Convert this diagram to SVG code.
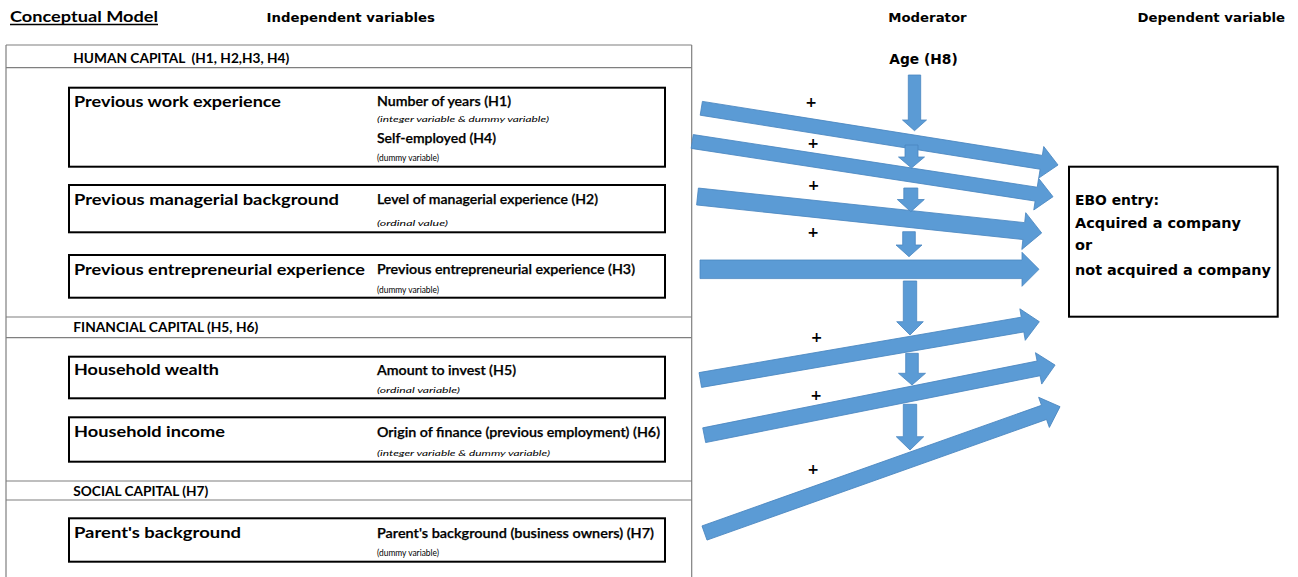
<svg xmlns="http://www.w3.org/2000/svg" width="1298" height="577" viewBox="0 0 1298 577">
<style>
.hdr{font-family:"DejaVu Sans",Verdana,sans-serif;font-weight:bold;font-size:12px;fill:#000}
.sec{font-family:Lato,"Liberation Sans",sans-serif;font-weight:bold;font-size:12.5px;fill:#000}
.ttl{font-family:Lato,"Liberation Sans",sans-serif;font-weight:bold;font-size:16px;fill:#000}
.var{font-family:"Lato Semibold",Lato,"Liberation Sans",sans-serif;font-weight:600;font-size:13px;fill:#000;stroke:#000;stroke-width:0.25}
.sml{font-family:Lato,"Liberation Sans",sans-serif;font-size:8.5px;fill:#000}
.it{font-style:italic}
.box{fill:#fff;stroke:#000;stroke-width:2}
.frame{fill:none;stroke:#7f7f7f;stroke-width:1.2}
.arr{fill:#5B9BD5;stroke:#4A86C0;stroke-width:0.8}
.plus{font-family:"DejaVu Sans",sans-serif;font-weight:bold;font-size:14px;fill:#000;text-anchor:middle}
.ebo{font-family:"DejaVu Sans",Verdana,sans-serif;font-weight:bold;font-size:14.5px;fill:#000}
</style>
<rect width="1298" height="577" fill="#fff"/>

<g id="headers">
<text x="10" y="21.5" font-family="Lato,'Liberation Sans',sans-serif" font-weight="bold" font-size="16" textLength="148" lengthAdjust="spacingAndGlyphs">Conceptual Model</text>
<line x1="10" y1="24.5" x2="158" y2="24.5" stroke="#000" stroke-width="1.3"/>
<text class="hdr" x="266.5" y="21.5" textLength="168.5" lengthAdjust="spacingAndGlyphs">Independent variables</text>
<text class="hdr" x="888.3" y="21.5" textLength="78.3" lengthAdjust="spacingAndGlyphs">Moderator</text>
<text class="hdr" x="1137.5" y="21.5" textLength="147.5" lengthAdjust="spacingAndGlyphs">Dependent variable</text>
</g>

<g id="frame">
<line class="frame" x1="6" y1="45" x2="6" y2="577"/>
<line class="frame" x1="691.7" y1="45" x2="691.7" y2="577"/>
<line class="frame" x1="6" y1="45" x2="691.7" y2="45"/>
<line class="frame" x1="6" y1="67.7" x2="691.7" y2="67.7"/>
<line class="frame" x1="6" y1="317" x2="691.7" y2="317"/>
<line class="frame" x1="6" y1="337.7" x2="691.7" y2="337.7"/>
<line class="frame" x1="6" y1="481" x2="691.7" y2="481"/>
<line class="frame" x1="6" y1="500" x2="691.7" y2="500"/>
<text class="sec" x="73.3" y="62.5" xml:space="preserve" textLength="216" lengthAdjust="spacingAndGlyphs">HUMAN CAPITAL  (H1, H2,H3, H4)</text>
<text class="sec" x="73.3" y="332" textLength="185" lengthAdjust="spacingAndGlyphs">FINANCIAL CAPITAL (H5, H6)</text>
<text class="sec" x="73.3" y="496" textLength="135" lengthAdjust="spacingAndGlyphs">SOCIAL CAPITAL (H7)</text>
</g>

<g id="node-work">
<rect class="box" x="69" y="87.7" width="596" height="79"/>
<text class="ttl" x="74" y="107" textLength="207" lengthAdjust="spacingAndGlyphs">Previous work experience</text>
<text class="var" x="377" y="106" textLength="134" lengthAdjust="spacingAndGlyphs">Number of years (H1)</text>
<text class="sml it" x="377" y="122" textLength="172" lengthAdjust="spacingAndGlyphs">(integer variable &amp; dummy variable)</text>
<text class="var" x="377" y="143" textLength="119" lengthAdjust="spacingAndGlyphs">Self-employed (H4)</text>
<text class="sml" x="377" y="161" textLength="62" lengthAdjust="spacingAndGlyphs">(dummy variable)</text>
</g>

<g id="node-managerial">
<rect class="box" x="69" y="185" width="596" height="47.3"/>
<text class="ttl" x="74" y="205" textLength="265" lengthAdjust="spacingAndGlyphs">Previous managerial background</text>
<text class="var" x="377" y="204" textLength="221" lengthAdjust="spacingAndGlyphs">Level of managerial experience (H2)</text>
<text class="sml it" x="377" y="226" textLength="71" lengthAdjust="spacingAndGlyphs">(ordinal value)</text>
</g>

<g id="node-entrepreneurial">
<rect class="box" x="69" y="255" width="596" height="42.7"/>
<text class="ttl" x="74" y="275" textLength="291" lengthAdjust="spacingAndGlyphs">Previous entrepreneurial experience</text>
<text class="var" x="377" y="274" textLength="258" lengthAdjust="spacingAndGlyphs">Previous entrepreneurial experience (H3)</text>
<text class="sml" x="377" y="293" textLength="62" lengthAdjust="spacingAndGlyphs">(dummy variable)</text>
</g>

<g id="node-wealth">
<rect class="box" x="69" y="356.7" width="596" height="41.6"/>
<text class="ttl" x="74" y="375" textLength="145" lengthAdjust="spacingAndGlyphs">Household wealth</text>
<text class="var" x="377" y="375" textLength="139" lengthAdjust="spacingAndGlyphs">Amount to invest (H5)</text>
<text class="sml it" x="377" y="393" textLength="83" lengthAdjust="spacingAndGlyphs">(ordinal variable)</text>
</g>

<g id="node-income">
<rect class="box" x="69" y="417.3" width="596" height="44.4"/>
<text class="ttl" x="74" y="437" textLength="151" lengthAdjust="spacingAndGlyphs">Household income</text>
<text class="var" x="377" y="437" textLength="283" lengthAdjust="spacingAndGlyphs">Origin of finance (previous employment) (H6)</text>
<text class="sml it" x="377" y="456" textLength="173" lengthAdjust="spacingAndGlyphs">(integer variable &amp; dummy variable)</text>
</g>

<g id="node-parents">
<rect class="box" x="69" y="518.3" width="596" height="43.4"/>
<text class="ttl" x="74" y="538" textLength="167" lengthAdjust="spacingAndGlyphs">Parent's background</text>
<text class="var" x="377" y="538" textLength="277" lengthAdjust="spacingAndGlyphs">Parent's background (business owners) (H7)</text>
<text class="sml" x="377" y="556" textLength="62" lengthAdjust="spacingAndGlyphs">(dummy variable)</text>
</g>

<g id="node-age">
<text class="ebo" x="889.3" y="64" textLength="68.4" lengthAdjust="spacingAndGlyphs">Age (H8)</text>
</g>

<g id="node-ebo">
<rect class="box" x="1069" y="166.7" width="208.7" height="150"/>
<text class="ebo" x="1075" y="205" textLength="84" lengthAdjust="spacingAndGlyphs">EBO entry:</text>
<text class="ebo" x="1075" y="227.7" textLength="166" lengthAdjust="spacingAndGlyphs">Acquired a company</text>
<text class="ebo" x="1075" y="250">or</text>
<text class="ebo" x="1075" y="275" textLength="196" lengthAdjust="spacingAndGlyphs">not acquired a company</text>
</g>

<g id="connectors">
<polygon class="arr" transform="translate(701.3,108.3) rotate(9.03)" points="0,-7 344.2,-7 344.2,-16 361.2,0 344.2,16 344.2,7 0,7"/>
<polygon class="arr" transform="translate(692.2,141.5) rotate(8.7)" points="0,-7 348,-7 348,-16 365,0 348,16 348,7 0,7"/>
<polygon class="arr" transform="translate(697.5,196.5) rotate(6.05)" points="0,-8.5 328.1,-8.5 328.1,-18.5 346.1,0 328.1,18.5 328.1,8.5 0,8.5"/>
<polygon class="arr" transform="translate(700,269.3)" points="0,-9.3 322,-9.3 322,-17 339,0 322,17 322,9.3 0,9.3"/>
<polygon class="arr" transform="translate(700.3,380) rotate(-9.76)" points="0,-7.5 327,-7.5 327,-16 344,0 327,16 327,7.5 0,7.5"/>
<polygon class="arr" transform="translate(704.2,435.2) rotate(-11.3)" points="0,-7.5 341,-7.5 341,-16 357.8,0 341,16 341,7.5 0,7.5"/>
<polygon class="arr" transform="translate(704.5,533) rotate(-19.56)" points="0,-7.5 360.3,-7.5 360.3,-16 377.3,0 360.3,16 360.3,7.5 0,7.5"/>

<polygon class="arr" points="908.3,75 920.7,75 920.7,120 926.5,120 914.5,130.7 902.5,120 908.3,120"/>
<polygon class="arr" points="905,145 918,145 918,157 924.5,157 911.5,168 898.5,157 905,157"/>
<polygon class="arr" points="903.8,188 917.8,188 917.8,199.5 924.3,199.5 910.8,211.7 897.3,199.5 903.8,199.5"/>
<polygon class="arr" points="902.7,231.7 915.3,231.7 915.3,245 922,245 909,256.7 896,245 902.7,245"/>
<polygon class="arr" points="903.3,281 916.7,281 916.7,321.7 923.3,321.7 910,335 896.7,321.7 903.3,321.7"/>
<polygon class="arr" points="905.7,353.3 918.3,353.3 918.3,373.3 925.5,373.3 912,385 898.5,373.3 905.7,373.3"/>
<polygon class="arr" points="903.3,404.3 916.7,404.3 916.7,436.7 923.7,436.7 910,450 896.3,436.7 903.3,436.7"/>

<text class="plus" x="811" y="106.5">+</text>
<text class="plus" x="813" y="148">+</text>
<text class="plus" x="813.5" y="190">+</text>
<text class="plus" x="813" y="237">+</text>
<text class="plus" x="816.7" y="341.5">+</text>
<text class="plus" x="816" y="400">+</text>
<text class="plus" x="813" y="473.5">+</text>
</g>
</svg>
